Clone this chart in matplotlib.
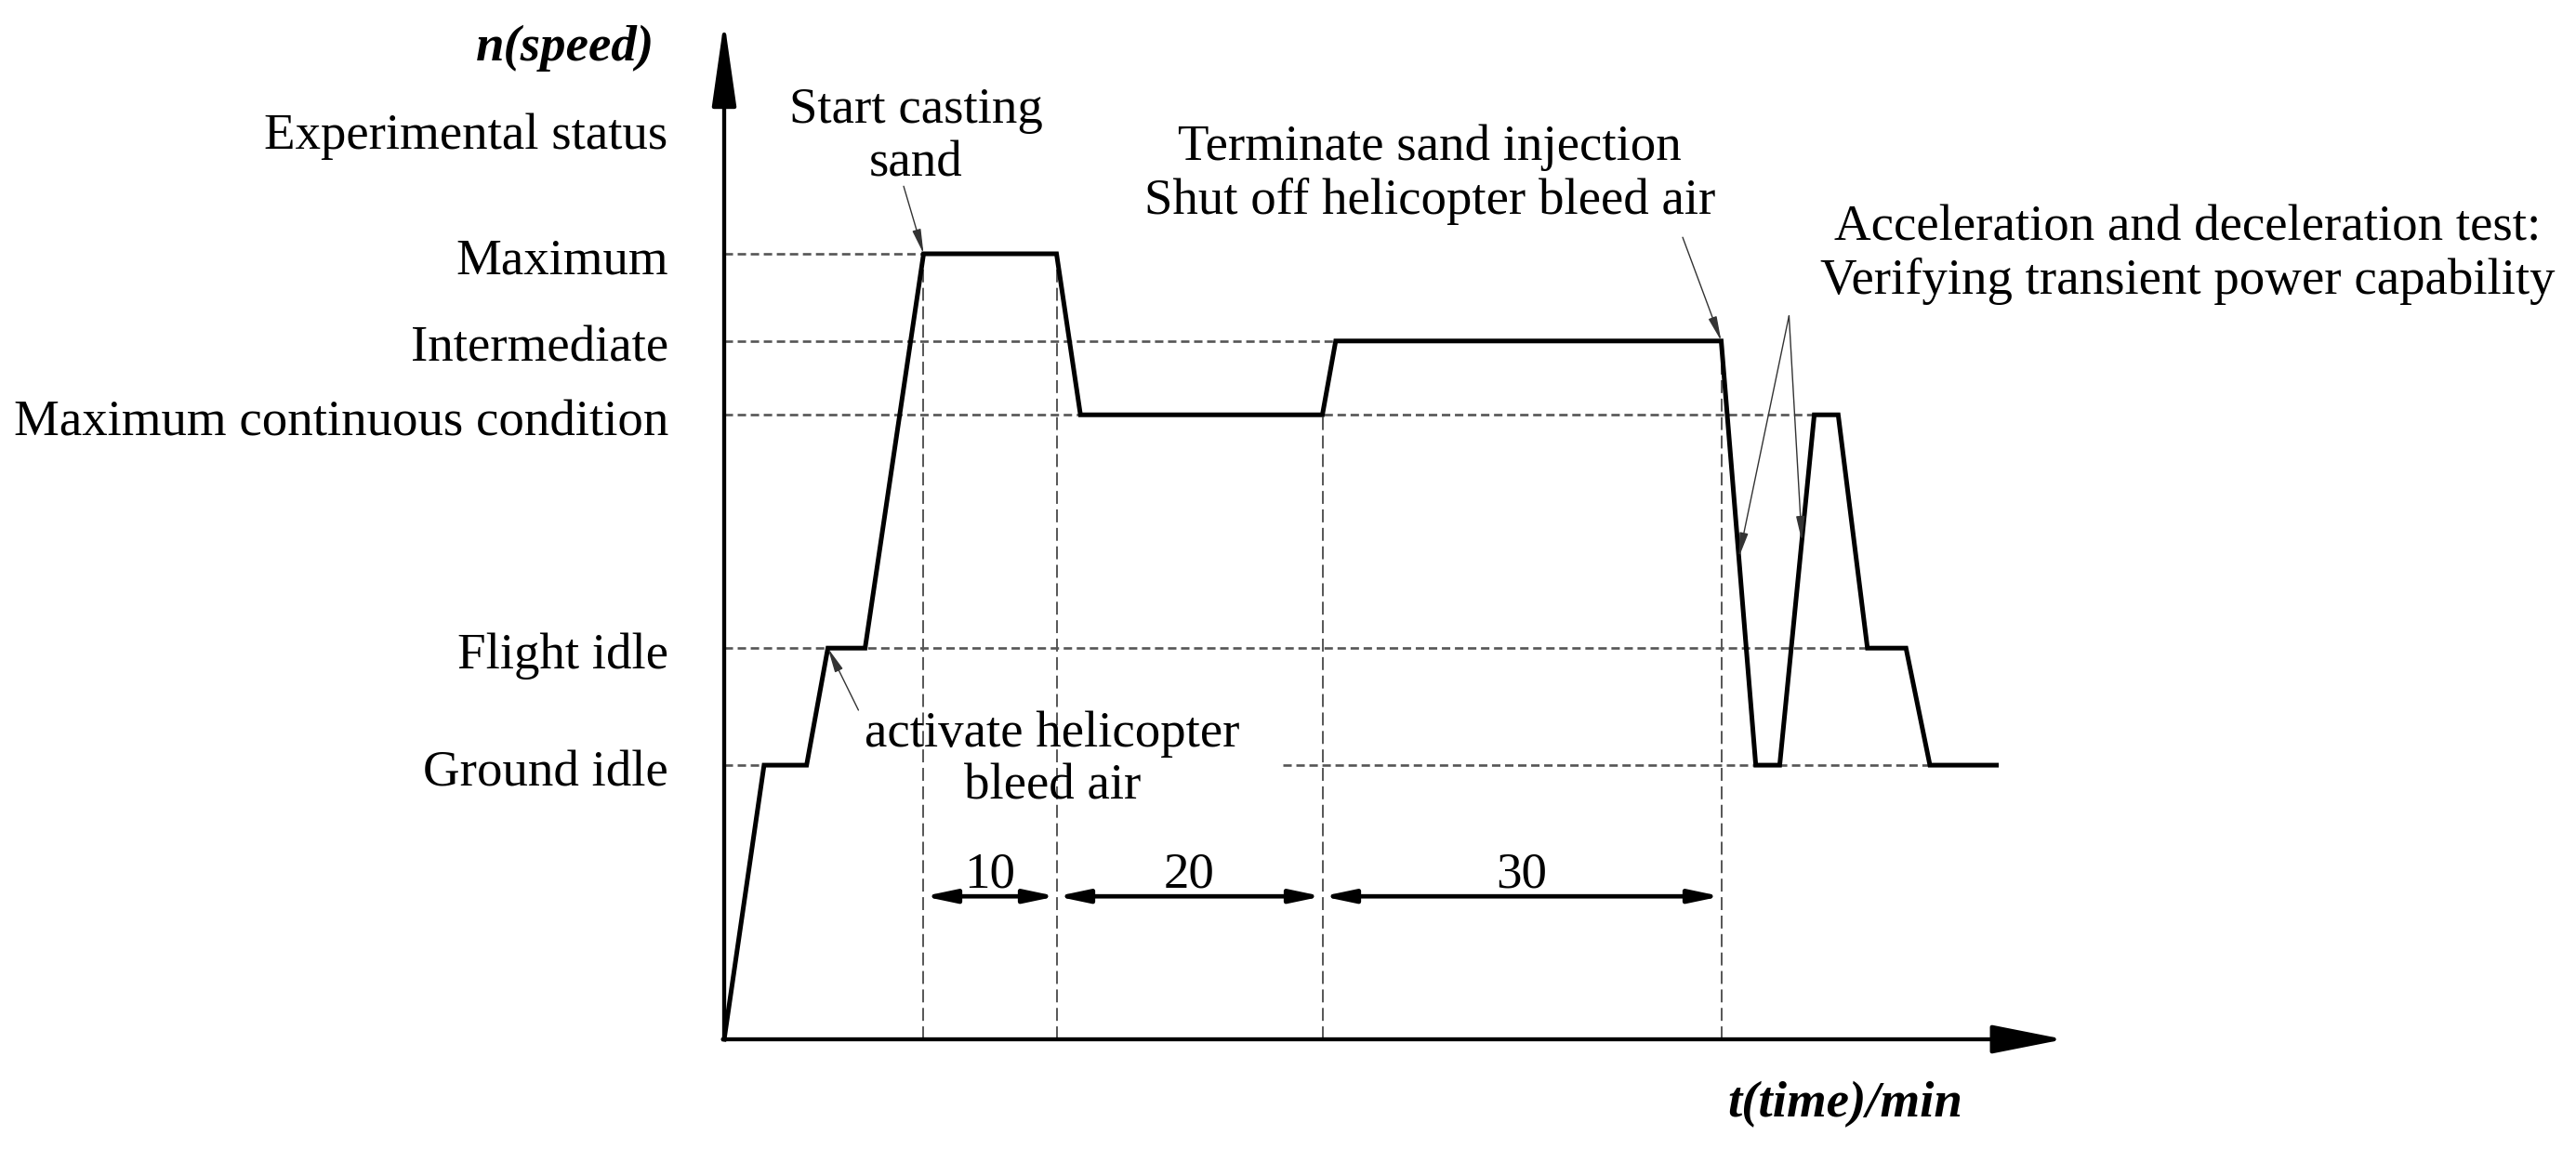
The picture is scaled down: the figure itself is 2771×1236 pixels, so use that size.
import numpy as np
import matplotlib
matplotlib.use("Agg")
import matplotlib.pyplot as plt

# ---------------- data ----------------
level_names = ["Ground idle", "Flight idle", "Maximum continuous condition",
               "Intermediate", "Maximum"]
level_values = [34.9, 49.8, 79.5, 88.9, 100.0]

# speed profile (time in min, relative speed)
profile_t = [0, 3.0, 6.2, 7.8, 10.6, 15.0, 25.0, 26.8, 45.0, 46.0,
             75.0, 77.6, 79.4, 82.0, 83.8, 86.0, 88.9, 90.7, 95.7]
profile_n = [0, 34.9, 34.9, 49.8, 49.8, 100.0, 100.0, 79.5, 79.5, 88.9,
             88.9, 34.9, 34.9, 79.5, 79.5, 49.8, 49.8, 34.9, 34.9]

# test phases (min)
phase_start = 15.0
phase_durations = [10, 20, 30]
phase_labels = ["10", "20", "30"]

# horizontal guide extents (level index -> list of (t_from, t_to))
guide_segments = {
    0: [(0, 3.0), (42.0, 90.7)],
    1: [(0, 86.0)],
    2: [(0, 82.0)],
    3: [(0, 46.0)],
    4: [(0, 15.0)],
}

# ---------------- figure geometry ----------------
W, H = 2771, 1236
X0, Y0 = 779, 1118          # pixel position of origin (from top-left)
PX_MIN, PX_N = 14.3, 8.45   # pixels per minute / per speed unit

plt.rcParams['lines.scale_dashes'] = False
FONT = "Liberation Serif"
FS = 39.5

fig = plt.figure(figsize=(W / 100, H / 100), dpi=100)
ax = fig.add_axes([0, 0, 1, 1])
ax.set_xlim(-X0 / PX_MIN, (W - X0) / PX_MIN)
ax.set_ylim((Y0 - H) / PX_N, Y0 / PX_N)
ax.axis("off")

t_tip = 100.8
n_tip = 129.7

# axes with arrows
ax.annotate("", xy=(0, n_tip), xytext=(0, 0),
            arrowprops=dict(arrowstyle="-|>,head_length=5.6,head_width=0.8",
                            mutation_scale=10, lw=3.1, color="black",
                            shrinkA=0, shrinkB=0))
ax.annotate("", xy=(t_tip, 0), xytext=(-0.1, 0),
            arrowprops=dict(arrowstyle="-|>,head_length=4.8,head_width=0.95",
                            mutation_scale=10, lw=3.1, color="black",
                            shrinkA=0, shrinkB=0))

# horizontal dashed guides
for i, segs in guide_segments.items():
    for a, b in segs:
        ax.plot([a, b], [level_values[i]] * 2, color="#555555", lw=1.9,
                dashes=(6.5, 3.6), zorder=1)

# vertical dashed guides at phase boundaries
bounds = phase_start + np.concatenate([[0], np.cumsum(phase_durations)])
for tb in bounds:
    top = np.interp(tb, profile_t, profile_n)
    ax.plot([tb, tb], [0, top], color="#555555", lw=1.4,
            dashes=(10, 4.3), zorder=1)

# speed profile
ax.plot(profile_t, profile_n, color="black", lw=3.6,
        solid_joinstyle="miter", zorder=3)

# duration dimension arrows
dim_y = 18.2
for a, b, lab in zip(bounds[:-1], bounds[1:], phase_labels):
    ax.annotate("", xy=(b, dim_y), xytext=(a, dim_y),
                arrowprops=dict(arrowstyle="<|-|>,head_length=2.0,head_width=0.42",
                                mutation_scale=10, lw=3.4, color="black",
                                shrinkA=0, shrinkB=0))
    ax.text((a + b) / 2, dim_y + 1.2, lab, ha="center", va="baseline",
            fontsize=FS, family=FONT)

# left labels
for name, val in zip(level_names, level_values):
    ax.text(-4.2, val - 2.6, name, ha="right", va="baseline",
            fontsize=FS, family=FONT)
ax.text(-4.27, 113.4, "Experimental status", ha="right", va="baseline",
        fontsize=FS, family=FONT)
ax.text(-5.24, 124.6, "n(speed)", ha="right", va="baseline",
        fontsize=FS, family=FONT, style="italic", weight="bold")
ax.text(84.3, -9.9, "t(time)/min", ha="center", va="baseline",
        fontsize=FS, family=FONT, style="italic", weight="bold")

# annotations
ann_style = dict(arrowstyle="-|>,head_length=1.6,head_width=0.28",
                 mutation_scale=10, lw=1.0, color="#333333",
                 shrinkA=0, shrinkB=0)

def seg_point(i, frac):
    t = profile_t[i] + frac * (profile_t[i + 1] - profile_t[i])
    n = profile_n[i] + frac * (profile_n[i + 1] - profile_n[i])
    return (t, n)

ax.text(14.4, 114.9, "Start casting\nsand", ha="center", va="center",
        fontsize=FS, family=FONT, linespacing=1.18)
ax.annotate("", xy=(profile_t[5], profile_n[5]), xytext=(13.5, 108.6),
            arrowprops=ann_style)

ax.text(24.7, 35.5, "activate helicopter\nbleed air", ha="center",
        va="center", fontsize=FS, family=FONT, linespacing=1.18)
ax.annotate("", xy=(profile_t[3], profile_n[3]), xytext=(10.1, 41.9),
            arrowprops=ann_style)

ax.text(53.1, 110.1, "Terminate sand injection\nShut off helicopter bleed air",
        ha="center", va="center", fontsize=FS, family=FONT, linespacing=1.18)
ax.annotate("", xy=(profile_t[10], profile_n[10]), xytext=(72.1, 102.1),
            arrowprops=ann_style)

ax.text(110.1, 99.9,
        "Acceleration and deceleration test:\nVerifying transient power capability",
        ha="center", va="center", fontsize=FS, family=FONT, linespacing=1.18)
for i, frac in [(10, 0.51), (12, 0.64)]:
    ax.annotate("", xy=seg_point(i, frac), xytext=(80.1, 92.1),
                arrowprops=ann_style)

fig.savefig("out.png", dpi=100, facecolor="white")
